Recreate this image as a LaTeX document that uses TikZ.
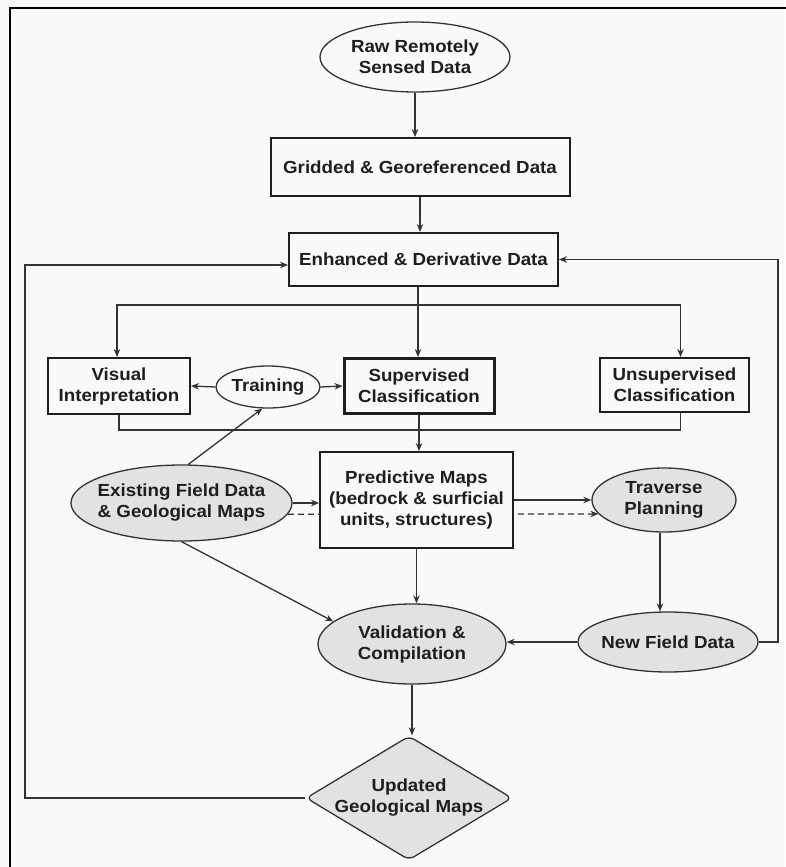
\documentclass[tikz,border=0pt]{standalone}
\usepackage{fontspec}
\setmainfont{Liberation Sans}[FakeStretch=1.07]
\usetikzlibrary{shapes.geometric,arrows.meta}
\definecolor{paper}{HTML}{F9F9F9}
\definecolor{shade}{HTML}{E2E2E2}
\definecolor{ink}{HTML}{1E1E1E}
\definecolor{wirec}{HTML}{333333}
\begin{document}
\begin{tikzpicture}[x=1pt,y=-1pt,
  lbl/.style={font=\fontsize{17.5}{21}\selectfont\bfseries, align=center, text=ink},
  box/.style={lbl, draw=ink, line width=2pt, fill=paper, rectangle, inner sep=0pt},
  oval/.style={lbl, draw=wirec, line width=1.3pt, ellipse, inner sep=-40pt},
  dia/.style={draw=wirec, line width=1.3pt, diamond, inner sep=-60pt, fill=shade, rounded corners=6pt},
  arr/.style={draw=wirec, line width=1.3pt, -{Stealth[length=8pt,width=6.5pt]}},
  ln/.style={draw=wirec, line width=1.3pt}]
\useasboundingbox (0,0) rectangle (785,867);
\fill[paper] (0,0) rectangle (785,867);
% outer frame (only the top and left sides fall on the page)
\draw[line width=2.5pt, black] (10,880) -- (10,8) -- (800,8);

% ---- nodes ----
\node[oval, fill=paper, minimum width=190pt, minimum height=70pt] (raw) at (415,57) {Raw Remotely\\Sensed Data};
\node[box, minimum width=299pt, minimum height=58pt] (grid) at (420,167) {Gridded \& Georeferenced Data};
\node[box, minimum width=269pt, minimum height=53pt] (enh) at (423.5,259.5) {Enhanced \& Derivative Data};

\node[box, minimum width=142pt, minimum height=56pt] (vis) at (119,386) {Visual\\Interpretation};
\node[oval, fill=paper, minimum width=104pt, minimum height=42pt] (train) at (268,387) {Training};
\node[box, line width=3pt, minimum width=150pt, minimum height=55pt] (sup) at (419,386) {Supervised\\Classification};
\node[box, minimum width=149pt, minimum height=54pt] (unsup) at (674.5,385) {Unsupervised\\Classification};

\node[oval, fill=shade, minimum width=221pt, minimum height=76pt] (exist) at (181.5,503) {Existing Field Data\\\& Geological Maps};
\node[oval, fill=shade, minimum width=144pt, minimum height=64pt] (trav) at (664,500) {Traverse\\Planning};
% the dashed link runs behind the predictive-maps box
\draw[arr, dashed, dash pattern=on 6pt off 4pt] (exist.-6) -- (trav.192);
\node[box, minimum width=193pt, minimum height=96pt] (pred) at (416.5,500) {Predictive Maps\\(bedrock \& surficial\\units, structures)};

\node[oval, fill=shade, minimum width=188pt, minimum height=80pt] (valid) at (412,644) {Validation \&\\Compilation};
\node[oval, fill=shade, minimum width=180pt, minimum height=60pt] (newf) at (668,642) {New Field Data};
\node[dia, minimum width=206pt, minimum height=124pt] (upd) at (409,798) {};
\node[lbl] (updtxt) at (upd) {Updated\\Geological Maps};

% ---- connectors ----
\draw[arr] (raw.south) -- (raw.south |- grid.north);
\draw[arr] (grid.south) -- (grid.south |- enh.north);

\coordinate (split) at (418,305);
\draw[ln] (enh.south -| split) -- (split);
\draw[arr] (split) -| ([xshift=-2pt]vis.north);
\draw[arr] (split) -- (split |- sup.north);
\draw[arr] (split) -| ([xshift=6pt]unsup.north);

\draw[arr] (train.west) -- (vis.east);
\draw[arr] (train.east) -- (sup.west);

\coordinate (join) at (419,430);
\draw[ln] (vis.south) |- (join) -| ([xshift=6pt]unsup.south);
\draw[arr] (sup.south) -- (sup.south |- pred.north);

\draw[arr] (exist.80) -- (train.255);
\draw[arr, line width=1.8pt] (exist.east) -- (exist.east -| pred.west);
\draw[arr] (pred.east) -- (pred.east -| trav.west);
\draw[arr] ([xshift=-4pt]trav.south) -- ([xshift=-4pt]trav.south |- newf.north);
\draw[arr] (pred.south) -- (pred.south |- valid.north);
\draw[arr] (exist.south) -- (valid.164);
\draw[arr] (newf.west) -- (newf.west -| valid.east);
\draw[arr] (valid.south) -- (valid.south |- upd.north);

\coordinate (rfb) at (778,400);
\draw[arr] (newf.east) -| (rfb) |- (enh.east);
\coordinate (lfb) at (25,500);
\draw[arr] (upd.west) -| (lfb) |- ([yshift=-5.5pt]enh.west);
\end{tikzpicture}
\end{document}
